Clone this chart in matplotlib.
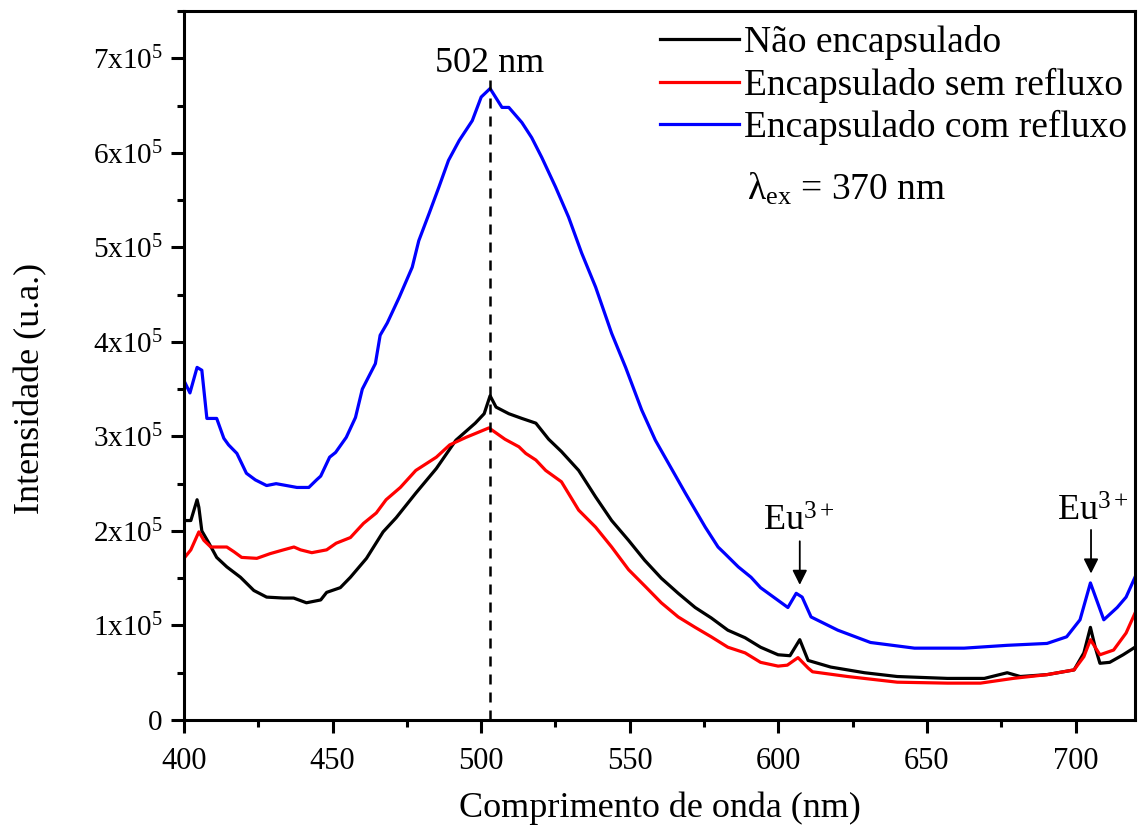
import matplotlib
matplotlib.use("Agg")
import matplotlib.pyplot as plt
from matplotlib.ticker import FuncFormatter, MultipleLocator

plt.rcParams['font.family'] = ['Liberation Serif', 'DejaVu Serif']
plt.rcParams['mathtext.fontset'] = 'custom'
plt.rcParams['mathtext.rm'] = 'Liberation Serif'
plt.rcParams['mathtext.it'] = 'Liberation Serif:italic'

# ---- data (intensity in units of 1e5) ----
black_x = [400, 402.3, 404.4, 405, 406, 408.4, 411, 414.4, 419, 423.5, 427.8, 433.5, 436.9, 441.2,
           446, 448, 452.6, 456, 461.4, 467, 471.4, 478, 484.9, 491.5, 498, 501, 503, 505, 509.3,
           513.7, 518.4, 522.7, 527, 532.8, 538.5, 543.9, 549.6, 555, 560.6, 566.3, 572, 577.4,
           583, 588.8, 594, 599.9, 603.9, 607.2, 610, 617.6, 629, 640, 656.9, 669.3, 677, 681.4,
           690.4, 699.5, 702.8, 705, 706.6, 708.2, 711.5, 716, 720]
black_y = [2.11, 2.11, 2.33, 2.25, 2.00, 1.87, 1.72, 1.62, 1.51, 1.37, 1.30, 1.29, 1.29, 1.24,
           1.27, 1.35, 1.40, 1.51, 1.71, 1.99, 2.14, 2.40, 2.66, 2.96, 3.14, 3.24, 3.43, 3.31, 3.24,
           3.19, 3.14, 2.97, 2.84, 2.64, 2.36, 2.11, 1.90, 1.69, 1.50, 1.34, 1.19, 1.08,
           0.95, 0.87, 0.77, 0.69, 0.68, 0.85, 0.63, 0.56, 0.50, 0.46, 0.44, 0.44, 0.50, 0.46,
           0.48, 0.53, 0.71, 0.98, 0.77, 0.60, 0.61, 0.69, 0.77]

red_x = [400, 402.3, 405, 406.7, 409, 414.4, 416.8, 419.4, 424.5, 429, 433.5, 437, 439.2, 443,
         448, 451.2, 456, 460.4, 464.7, 468, 472.8, 478, 484.9, 489.4, 494.9, 498, 502.6, 508,
         512.7, 515, 518.4, 521.7, 527, 532.8, 538.5, 543.9, 549.6, 555.3, 560.6, 566.3, 572,
         577.4, 583, 588.8, 594, 599.9, 603, 606.6, 610, 611.5, 623.3, 640, 656.9, 668, 679,
         690.4, 699.5, 702.8, 705, 708.2, 712.8, 717, 720]
red_y = [1.71, 1.80, 1.99, 1.90, 1.83, 1.83, 1.78, 1.72, 1.71, 1.76, 1.80, 1.83, 1.80, 1.77,
         1.80, 1.87, 1.93, 2.08, 2.19, 2.33, 2.46, 2.64, 2.78, 2.91, 2.99, 3.03, 3.09, 2.97,
         2.89, 2.82, 2.75, 2.64, 2.52, 2.22, 2.04, 1.83, 1.59, 1.41, 1.24, 1.09, 0.98,
         0.88, 0.77, 0.71, 0.61, 0.57, 0.58, 0.66, 0.55, 0.51, 0.46, 0.40, 0.39, 0.39, 0.44,
         0.48, 0.53, 0.67, 0.85, 0.69, 0.74, 0.92, 1.13]

blue_x = [400, 402, 404.4, 406, 407.7, 411, 413.4, 415, 417.8, 421, 424, 427.8, 431, 438, 442,
          444.6, 446, 449, 451, 454.6, 457.7, 460, 464.4, 466, 468.4, 472.4, 476.8, 479, 482.5,
          485.8, 489, 492.6, 497, 500, 503, 507, 509.3, 513.7, 517, 520.4, 525, 529.4, 533.8,
          538.5, 543.9, 548.6, 554, 558.6, 568.7, 575.4, 579.7, 582, 586.5, 590.8, 594, 603.2,
          606, 608, 611, 620, 631, 645.8, 662.5, 677, 690.4, 697, 701.5, 705, 709.5, 714, 717, 720]
blue_y = [3.59, 3.46, 3.73, 3.70, 3.19, 3.19, 2.98, 2.91, 2.82, 2.61, 2.54, 2.48, 2.50, 2.46, 2.46,
          2.54, 2.58, 2.78, 2.83, 2.99, 3.20, 3.50, 3.77, 4.07, 4.20, 4.47, 4.79, 5.07, 5.36,
          5.64, 5.92, 6.13, 6.34, 6.59, 6.68, 6.48, 6.48, 6.32, 6.16, 5.95, 5.64, 5.32, 4.94,
          4.58, 4.09, 3.73, 3.28, 2.96, 2.40, 2.04, 1.83, 1.76, 1.62, 1.51, 1.40, 1.19,
          1.34, 1.30, 1.09, 0.95, 0.82, 0.76, 0.76, 0.79, 0.81, 0.88, 1.06, 1.45, 1.06, 1.19, 1.30, 1.51]

labels = ["Não encapsulado", "Encapsulado sem refluxo", "Encapsulado com refluxo"]
colors = ["black", "#ff0000", "#0000ff"]
scale = 1e5

peak_x = 503
peak_label = "502 nm"
eu_x = [607.2, 705.2]

fig = plt.figure(figsize=(11.39, 8.34), dpi=100)
ax = fig.add_axes([184/1139, 114/834, 951/1139, 709/834])

for xs, ys, lab, c in zip([black_x, red_x, blue_x], [black_y, red_y, blue_y], labels, colors):
    ax.plot(xs, [v * scale for v in ys], color=c, lw=2.3, label=lab)

ax.plot([peak_x, peak_x], [0, 6.77e5], color='black', lw=1.8, ls=(0, (4, 3.2)))
ax.text(peak_x, 6.85e5, peak_label, ha='center', va='baseline', fontsize=26)

# Eu3+ annotations
ax.annotate('', xy=(eu_x[0], 1.40e5), xytext=(eu_x[0], 1.92e5),
            arrowprops=dict(arrowstyle='-|>', color='black', lw=1.3, mutation_scale=22))
ax.text(eu_x[0] - 0.3, 2.0e5, r'Eu$^{3+}$', ha='center', va='baseline', fontsize=26)
ax.annotate('', xy=(eu_x[1], 1.52e5), xytext=(eu_x[1], 2.04e5),
            arrowprops=dict(arrowstyle='-|>', color='black', lw=1.3, mutation_scale=22))
ax.text(eu_x[1] + 0.5, 2.11e5, r'Eu$^{3+}$', ha='center', va='baseline', fontsize=26)

ax.set_xlim(400, 720)
ax.set_ylim(0, 7.5e5)
ax.xaxis.set_major_locator(MultipleLocator(50))
ax.xaxis.set_minor_locator(MultipleLocator(25))
ax.yaxis.set_major_locator(MultipleLocator(1e5))
ax.yaxis.set_minor_locator(MultipleLocator(0.5e5))

def yfmt(v, pos):
    n = int(round(v / 1e5))
    if n == 0:
        return '0'
    return r'$%d\mathrm{x}10^{5}$' % n

ax.yaxis.set_major_formatter(FuncFormatter(yfmt))
ax.tick_params(which='major', direction='out', length=9.5, width=2.2)
ax.tick_params(axis='x', which='major', pad=10, labelsize=22)
ax.tick_params(axis='y', which='major', pad=6, labelsize=21)
ax.tick_params(which='minor', direction='out', length=5, width=2.2)
for s in ax.spines.values():
    s.set_linewidth(2.2)

ax.set_xlabel('Comprimento de onda (nm)', fontsize=26, labelpad=11)
ax.set_ylabel('Intensidade (u.a.)', fontsize=26)
ax.yaxis.set_label_coords((47-184)/951, (720-388)/709)

leg = ax.legend(loc='upper left', bbox_to_anchor=((660-184)/951, (720-25)/709),
                frameon=False, fontsize=27, handlelength=2.1, handletextpad=0.15,
                labelspacing=0.2, borderpad=0, borderaxespad=0)
ax.text(589.3, 5.5e5, r'λ$_{\mathrm{ex}}$ = 370 nm', fontsize=27, va='baseline', ha='left')

fig.savefig('out.png', dpi=100)
